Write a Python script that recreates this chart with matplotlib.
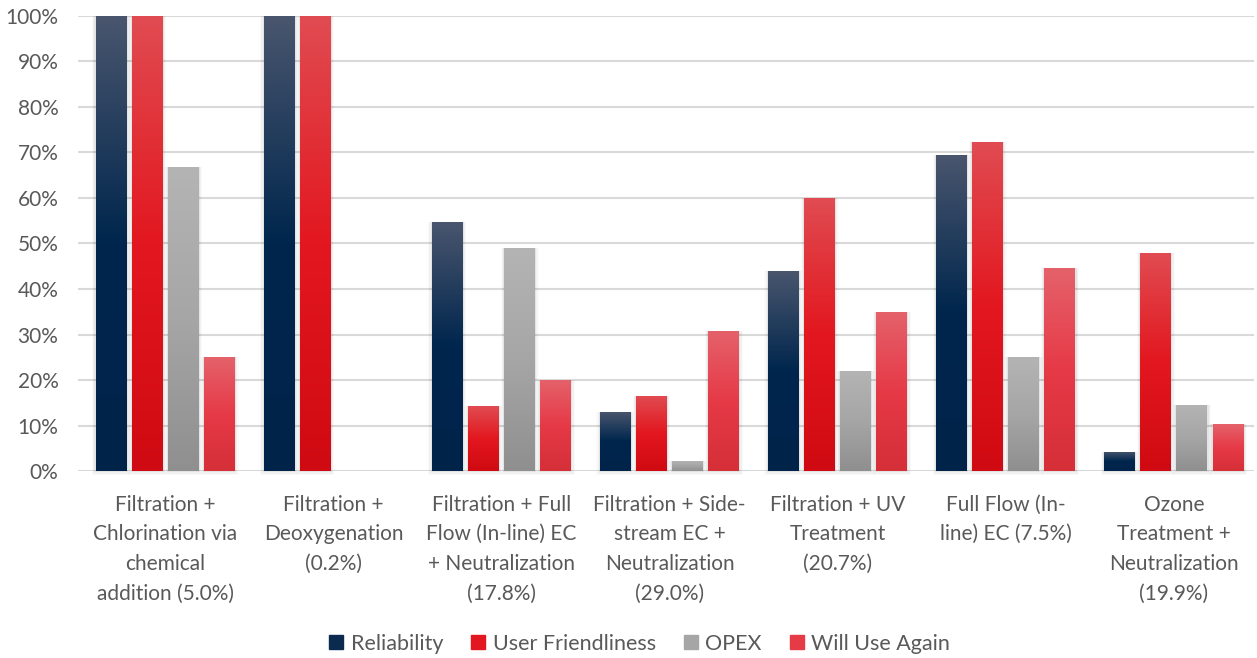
import numpy as np
import matplotlib.pyplot as plt
from matplotlib.colors import LinearSegmentedColormap
from matplotlib.patches import Patch

plt.rcParams['font.family'] = ['Lato', 'DejaVu Sans']

categories = ["Filtration +\nChlorination via\nchemical\naddition (5.0%)",
              "Filtration +\nDeoxygenation\n(0.2%)",
              "Filtration + Full\nFlow (In-line) EC\n+ Neutralization\n(17.8%)",
              "Filtration + Side-\nstream EC +\nNeutralization\n(29.0%)",
              "Filtration + UV\nTreatment\n(20.7%)",
              "Full Flow (In-\nline) EC (7.5%)",
              "Ozone\nTreatment +\nNeutralization\n(19.9%)"]
series = ["Reliability", "User Friendliness", "OPEX", "Will Use Again"]
reliability = [100, 100, 54.8, 13.0, 44.0, 69.5, 4.2]
user_friendliness = [100, 100, 14.2, 16.5, 60.0, 72.3, 48.0]
opex = [66.7, 0, 48.9, 2.2, 22.0, 25.0, 14.5]
will_use_again = [25.0, 0, 20.0, 30.8, 35.0, 44.6, 10.3]
values = [reliability, user_friendliness, opex, will_use_again]

# top, middle, bottom colours of each gradient
grads = [["#4a566e", "#00264d", "#00234a"],
         ["#e04c52", "#e3171f", "#d00a12"],
         ["#b4b4b4", "#a6a6a6", "#8f8f8f"],
         ["#e4626b", "#e63a47", "#d52f38"]]
solid = ["#0b2a4f", "#e3171f", "#a6a6a6", "#e63a47"]

fig = plt.figure(figsize=(12.57, 6.58), dpi=100)
ax = fig.add_axes([0.062, 0.284, 0.936, 0.692])

x = np.arange(len(categories)) + 0.02
w = 0.184
step = 0.215
grad = np.linspace(0, 1, 256).reshape(-1, 1)

for i, (vals, g) in enumerate(zip(values, grads)):
    cmap = LinearSegmentedColormap.from_list("g%d" % i, [(0, g[2]), (0.5, g[1]), (1, g[0])])
    pos = x + (i - 1.5) * step
    bars = ax.bar(pos, vals, width=w, color="none", zorder=3)
    for b, v in zip(bars, vals):
        if v <= 0:
            continue
        x0 = b.get_x()
        # soft shadow
        for k, a in enumerate([0.05, 0.035, 0.02]):
            d = 0.007 * (k + 1)
            ax.add_patch(plt.Rectangle((x0 - d, -0.3 * (k + 1)), w + 2 * d, v + 0.3 * (k + 1),
                                       color="black", alpha=a, lw=0, zorder=2,
                                       clip_on=False))
        im = ax.imshow(grad, cmap=cmap, aspect="auto", extent=(x0, x0 + w, 0, v),
                       origin="lower", zorder=4, vmin=0, vmax=1)
        im.set_clip_path(b)

ax.set_xlim(-0.5, 6.5)
ax.set_ylim(0, 100)
ax.set_yticks(np.arange(0, 101, 10))
ax.set_yticklabels(["%d%%" % t for t in range(0, 101, 10)])
ax.set_xticks(x)
ax.set_xticklabels(categories, linespacing=1.6)
ax.tick_params(axis="both", length=0, labelsize=15, colors="#595959")
ax.tick_params(axis="x", pad=17)
ax.tick_params(axis="y", pad=14)
ax.grid(axis="y", color="#d9d9d9", lw=1.5, zorder=0)
ax.set_axisbelow(True)
for s in ax.spines.values():
    s.set_visible(False)

handles = [Patch(color=c) for c in solid]
fig.legend(handles, series, loc="center", bbox_to_anchor=(0.509, 0.022), ncol=4,
           frameon=False, fontsize=15.5, labelcolor="#595959", handlelength=0.65,
           handleheight=0.65, handletextpad=0.35, columnspacing=1.3)

plt.savefig("out.png", dpi=100)
